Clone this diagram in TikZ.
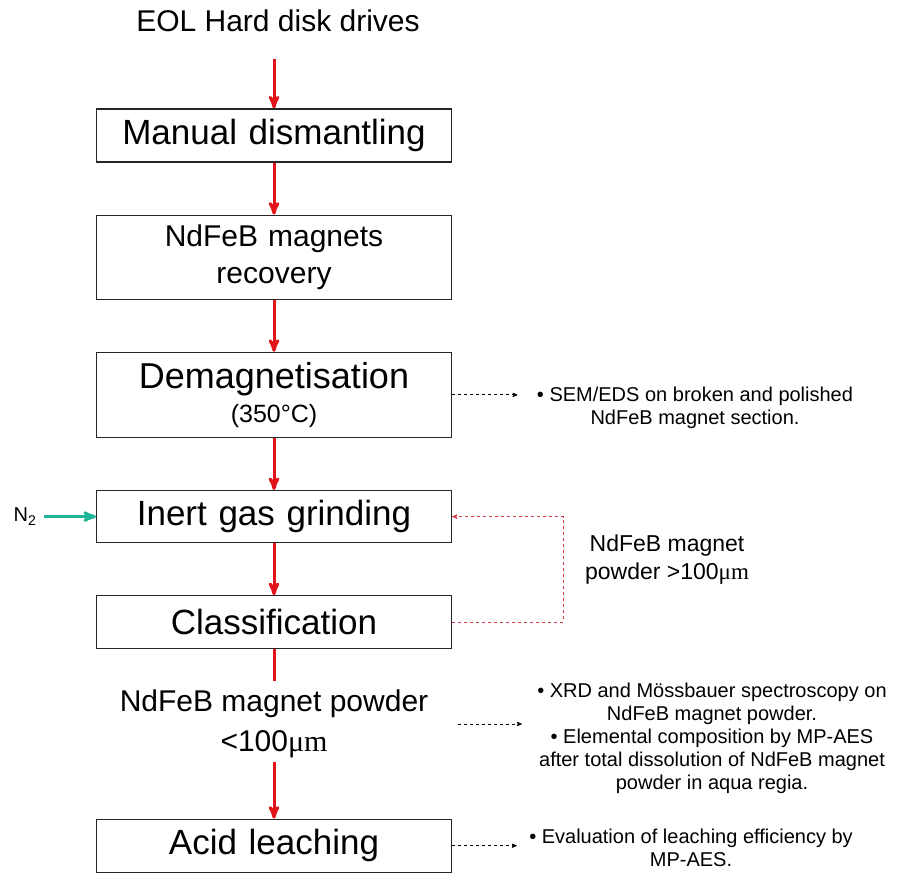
\documentclass[tikz,border=0pt]{standalone}
\usepackage{fontspec}
\setmainfont{Liberation Sans}
\newfontfamily\muserif{Liberation Serif}
\usetikzlibrary{arrows,shapes,positioning}
\definecolor{flowred}{RGB}{225,20,25}
\definecolor{loopred}{RGB}{215,60,70}
\definecolor{gasteal}{RGB}{30,180,150}
\newcommand{\micron}{{\muserif μm}}
\tikzset{
  %Define standard arrow tip
    >=stealth',
  %define style for process boxes
  stage/.style={
    rectangle,
    draw=black!85, line width=1.2pt,
    text width=330pt,
    minimum width=355pt,
    minimum height=53pt,
    align=center,
    font=\fontsize{35}{40}\selectfont},
  %define style for side notes
  note/.style={
    align=center,
    font=\fontsize{20}{23}\selectfont},
  %define style for arrows
  flow/.style={
    draw=flowred,
    line width=3pt},
  probe/.style={
    ->,
    dashed,
    line width=0.8pt},
  recycle/.style={
    ->,
    dashed,
    draw=loopred,
    line width=0.9pt}
}

\begin{document}
\begin{tikzpicture}[x=1pt, y=-1pt, node distance=52pt]
\useasboundingbox (0,0) rectangle (908,874);
%nodes
\node[font=\fontsize{30}{36}\selectfont] (eol) at (278,21) {EOL Hard disk drives};
\node[stage] (dismant) at (274,135.5) {Manual dismantling};
\node[stage, below=of dismant, minimum height=84pt,
      font=\fontsize{30}{37}\selectfont] (recov) {NdFeB magnets\\recovery};
\node[stage, below=of recov, minimum height=85pt,
      font=\fontsize{36}{34}\selectfont] (demag)
     {Demagnetisation\\{\fontsize{25}{30}\selectfont (350°C)}};
\node[stage, below=of demag, minimum height=52pt] (grind) {Inert gas grinding};
\node[stage, below=of grind] (classif) {Classification};
\node[below=37pt of classif, align=center,
      font=\fontsize{30}{40}\selectfont] (powder) {NdFeB magnet powder\\<100\micron};
\node[stage, below=57pt of powder] (leach) {Acid leaching};

\node[left=56pt of grind, font=\fontsize{20}{24}\selectfont] (gas) {N\textsubscript{2}};
\node[align=center, font=\fontsize{23}{28}\selectfont] (coarse) at (667,560)
     {NdFeB magnet\\powder >100\micron};

\node[note] (sem) at (695,408)
     {• SEM/EDS on broken and polished\\NdFeB magnet section.};
\node[note] (xrd) at (712,738)
     {• XRD and Mössbauer spectroscopy on\\NdFeB magnet powder.\\
      • Elemental composition by MP-AES\\after total dissolution of NdFeB magnet\\
      powder in aqua regia.};
\node[note] (eval) at (691,848)
     {• Evaluation of leaching efficiency by\\MP-AES.};

%main flow
\draw[flow, ->, shorten <=23pt] (dismant.north |- eol.south) -- (dismant.north);
\draw[flow, ->] (dismant.south) -- (recov.north);
\draw[flow, ->] (recov.south) -- (demag.north);
\draw[flow, ->] (demag.south) -- (grind.north);
\draw[flow, ->] (grind.south) -- (classif.north);
\draw[flow, shorten >=5pt] (classif.south) -- (powder.north);
\draw[flow, ->] (powder.south) -- (leach.north);

%gas inlet and oversize return
\draw[flow, ->, draw=gasteal, shorten <=4pt] (gas.east) -- (grind.west);
\draw[recycle] (classif.east) -- ++(111,0) |- (grind.east);

%analyses
\draw[probe, shorten >=16pt] (demag.east) -- (demag.east -| sem.west);
\draw[probe, shorten <=6pt, shorten >=12pt] (powder.east -| classif.east) -- (powder.east -| xrd.west);
\draw[probe, shorten >=9pt] (leach.east) -- (leach.east -| eval.west);
\end{tikzpicture}
\end{document}
